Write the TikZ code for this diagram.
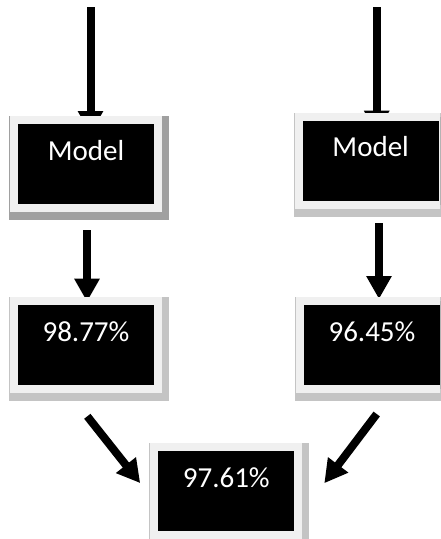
\documentclass[tikz,border=0pt]{standalone}
\usepackage{fontspec}
\setmainfont{Carlito}
\usetikzlibrary{arrows.meta,backgrounds,calc}
\definecolor{framegray}{HTML}{F0F0F0}
\definecolor{shadowA}{HTML}{A0A0A0}
\definecolor{shadowB}{HTML}{C4C4C4}
\begin{document}
\begin{tikzpicture}[x=1pt,y=-1pt,
  box/.style={fill=black, draw=framegray, line width=8pt, minimum width=144pt,
    inner sep=0pt, text height=41pt, text depth=47pt, text=white,
    font=\fontsize{29}{34}\selectfont, anchor=center},
  flow/.style={line width=8pt, -{Triangle[length=23pt,width=24pt]}},
]
\useasboundingbox (0,0) rectangle (440,539);
\clip (0,0) rectangle (440,539);

\node[box] (m1) at (86,163.5) {Model};
\node[box, text height=39pt, text depth=49pt] (m2) at (370.7,161.4) {Model};
\node[box] (p1) at (86,344.7) {98.77\%};
\node[box] (p2) at (372,344.5) {96.45\%};
\node[box] (p3) at (226.3,490.7) {97.61\%};

\coordinate (s1) at (90.5,7);
\coordinate (s2) at (376.7,7);

\begin{pgfonlayer}{background}
  \fill[shadowA] ([shift={(-1pt,0pt)}]m1.north west) rectangle ([shift={(7pt,-8pt)}]m1.south east);
  \fill[shadowB] ([shift={(-1pt,0pt)}]m2.north west) rectangle ([shift={(7pt,-8pt)}]m2.south east);
  \fill[shadowB] ([shift={(-1pt,0pt)}]p1.north west) rectangle ([shift={(7pt,-8pt)}]p1.south east);
  \fill[shadowB] ([shift={(-1pt,0pt)}]p2.north west) rectangle ([shift={(7pt,-8pt)}]p2.south east);
  \fill[shadowB] ([shift={(-1pt,0pt)}]p3.north west) rectangle ([shift={(7pt,-8pt)}]p3.south east);

  \draw[flow] (s1) -- ($(s1 |- m1.north)+(0,18.5)$);
  \draw[flow] (s2) -- ($(s2 |- m2.north)+(0,20.3)$);
  \draw[flow] ($(m1.south)+(1,18.5)$) -- ($(p1.north)+(1,5)$);
  \draw[flow] ($(m2.south)+(8.3,13.6)$) -- ($(p2.north)+(7,2.5)$);
  \draw[flow] ($(p1.south)+(1.3,23.6)$) -- ($(p3.west)+(-10.1,-7.6)$);
  \draw[flow] ($(p2.south)+(4.7,21.5)$) -- ($(p3.east)+(22.0,-7.5)$);
\end{pgfonlayer}
\end{tikzpicture}
\end{document}
